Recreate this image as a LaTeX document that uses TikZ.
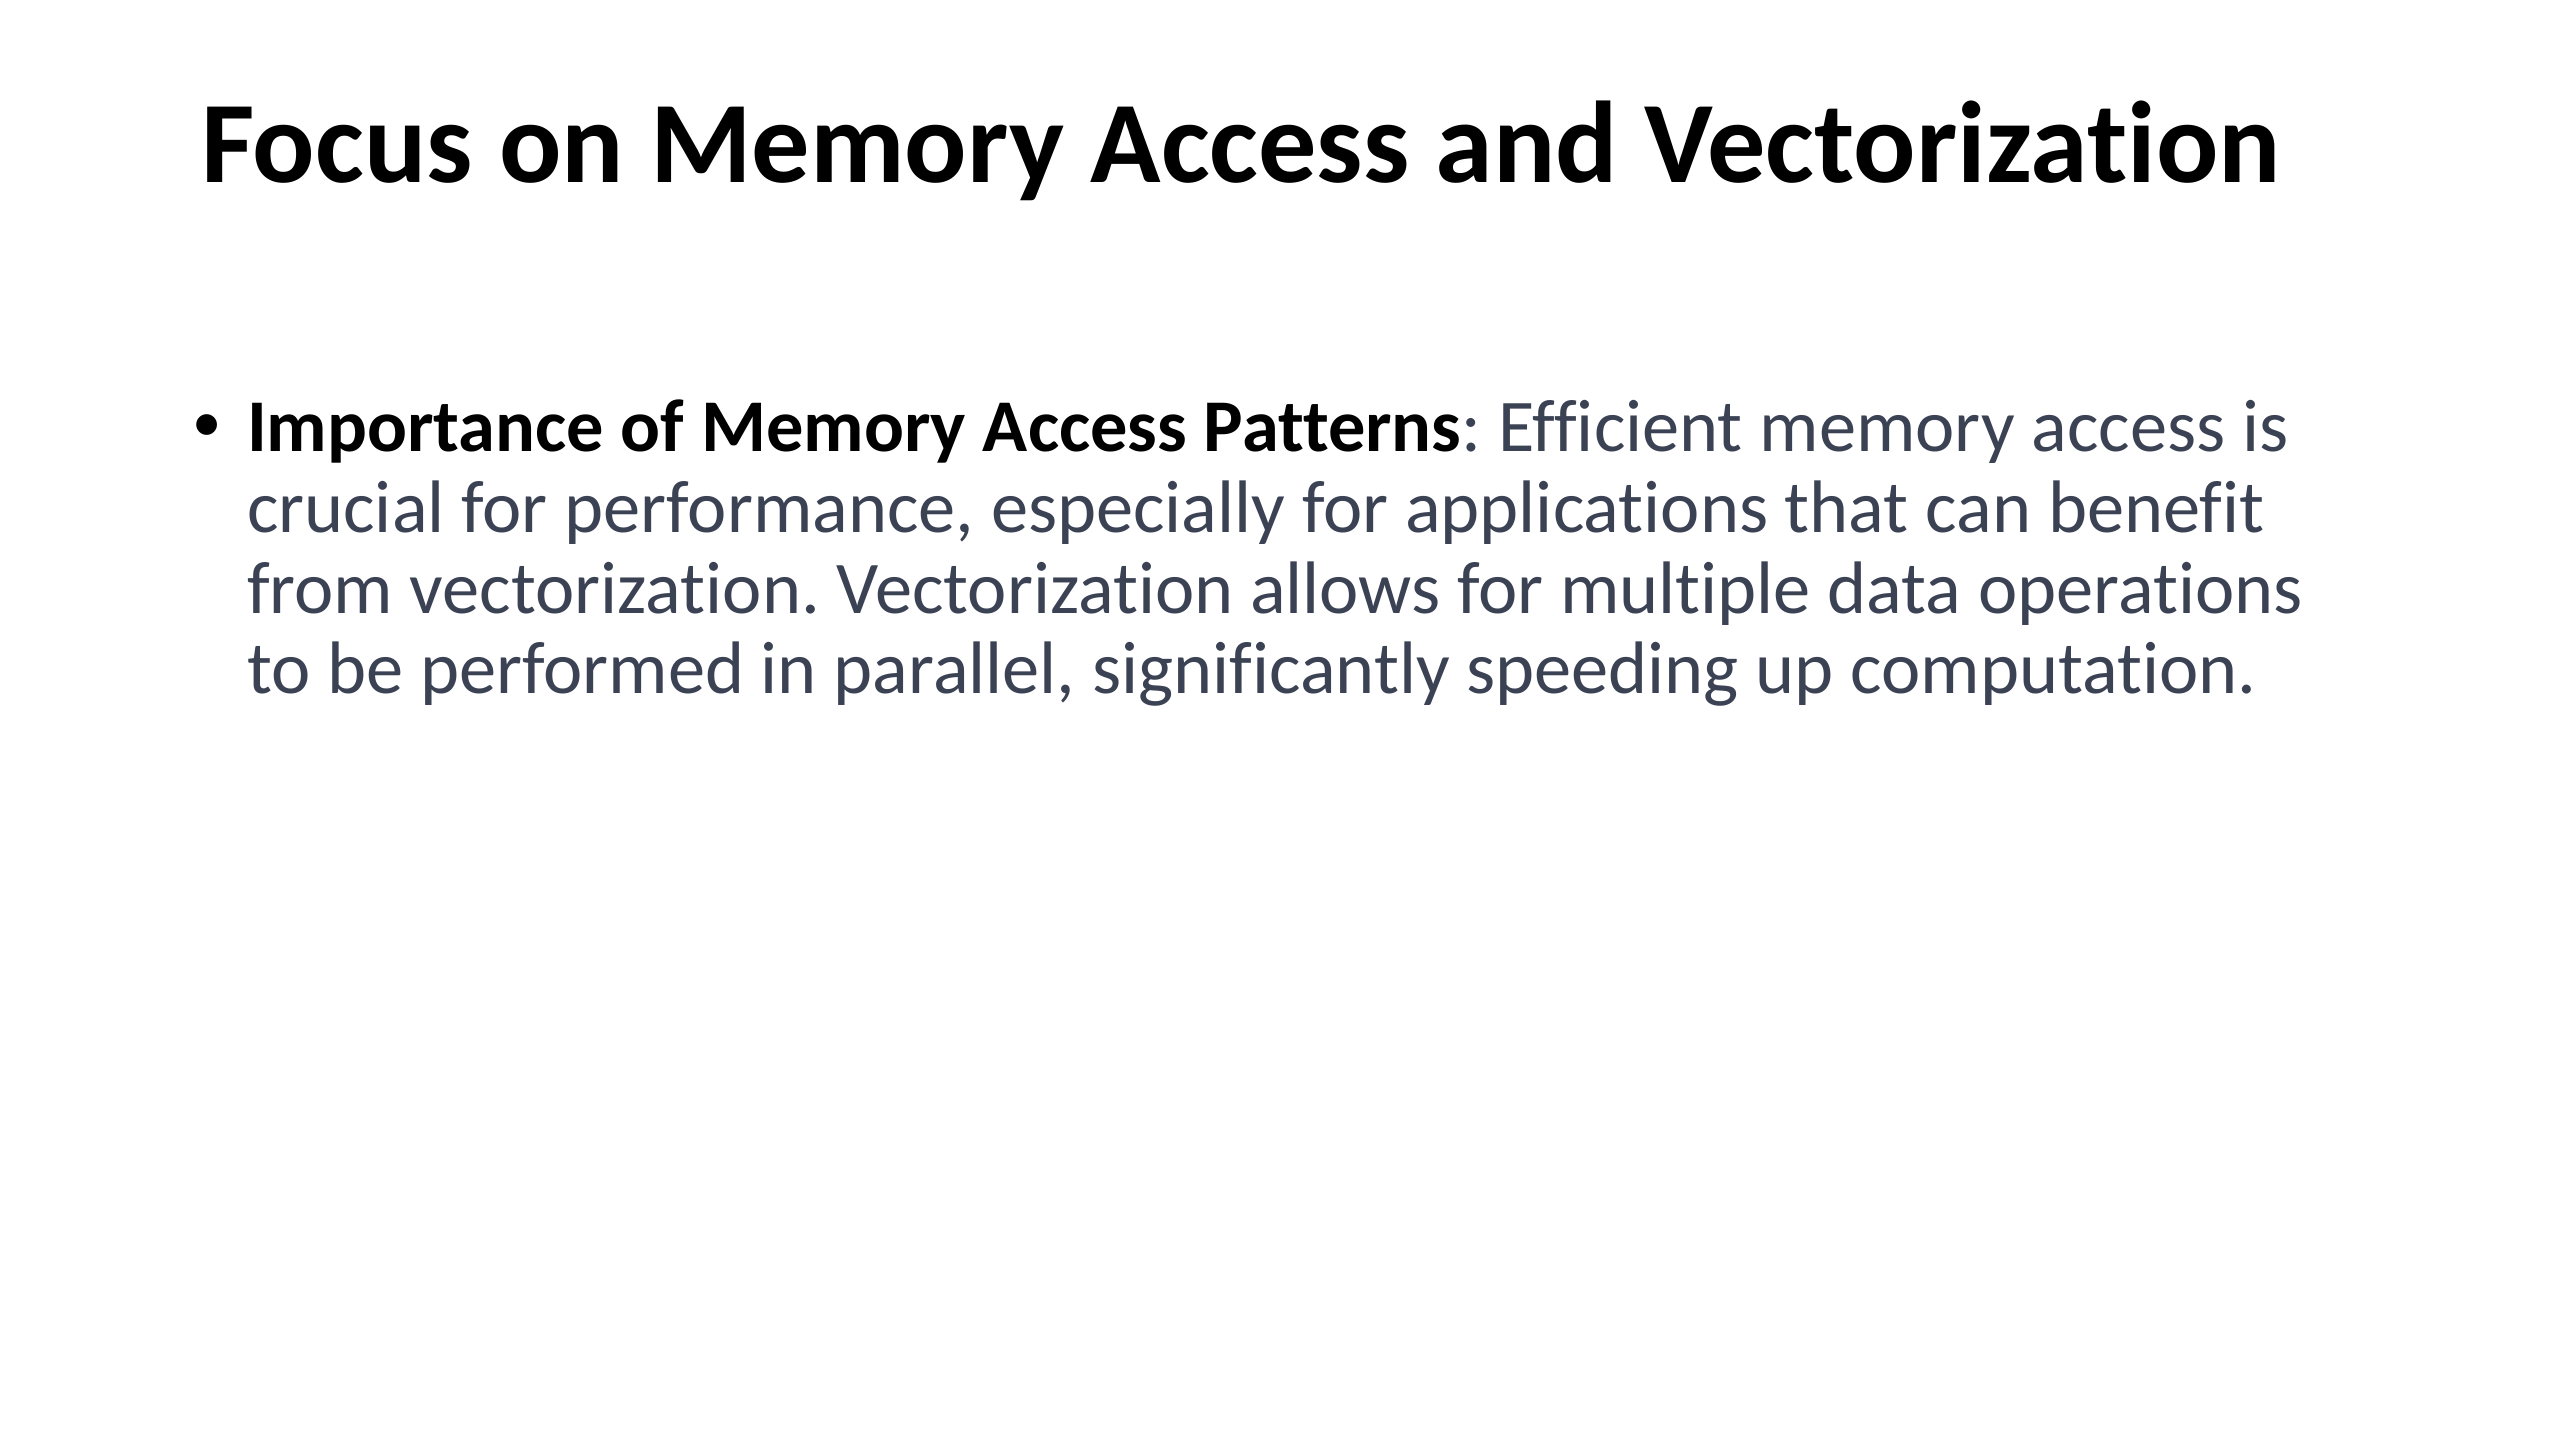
\documentclass[tikz,border=0pt]{standalone}
\usepackage{fontspec}
\setmainfont{Carlito}[Ligatures={NoCommon}]
\definecolor{slidegray}{RGB}{59,66,84}
\frenchspacing
\begin{document}
\begin{tikzpicture}[x=0.375pt,y=-0.375pt,inner sep=0pt,outer sep=0pt,
slidetitle/.style={anchor=base west,font=\fontsize{43.6}{53}\selectfont\bfseries},
bodytext/.style={anchor=base west,align=flush left,text width=850pt,text=slidegray,font=\fontsize{27.9}{30.2}\selectfont}]
\useasboundingbox[fill=white] (0,0) rectangle (2560,1440);
\node[slidetitle] (title) at (201,183) {Focus on Memory Access and Vectorization};
\node[bodytext] (point) at (247,452) {\textcolor{black}{\bfseries Importance of Memory Access Patterns}: Efficient memory access is\\
crucial for performance, especially for applications that can benefit\\
from vectorization. Vectorization allows for multiple data operations\\
to be performed in parallel, significantly speeding up computation.};
\node[anchor=center,font=\fontsize{22}{24}\selectfont] (bullet) at (207,428) {•};
\end{tikzpicture}
\end{document}
